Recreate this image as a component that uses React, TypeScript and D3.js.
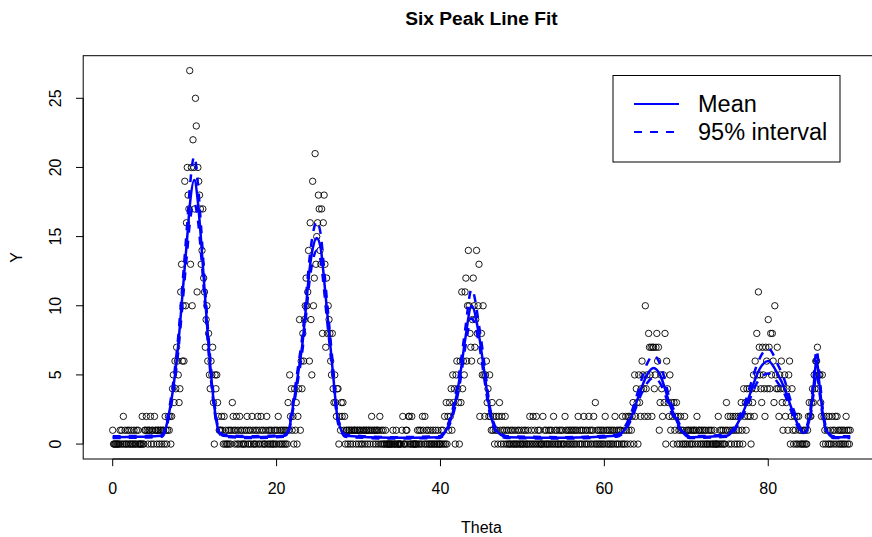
import React, { useEffect, useRef } from 'react';
import * as d3 from 'd3';

const W = 872;
const H = 537;

// observed Y counts on the theta grid (step 0.1), one array per ten degrees
const thetaStep = 0.1;
const y00 = [
  1, 0, 0, 0, 0, 0, 0, 0, 0, 1,
  0, 1, 0, 2, 0, 1, 0, 0, 1, 0,
  1, 0, 0, 1, 0, 0, 1, 0, 0, 1,
  0, 1, 0, 0, 0, 0, 2, 0, 0, 1,
  1, 2, 1, 0, 1, 1, 2, 0, 1, 1,
  0, 2, 1, 1, 0, 1, 1, 0, 1, 1,
  0, 1, 1, 0, 2, 1, 0, 1, 2, 1,
  2, 0, 2, 4, 5, 3, 6, 4, 7, 6,
  5, 3, 4, 11, 13, 6, 10, 6, 19, 10,
  16, 20, 18, 17, 27, 13, 20, 10, 22, 20,
];
const y10 = [
  17, 25, 23, 11, 20, 19, 18, 17, 13, 14,
  17, 12, 11, 7, 9, 10, 6, 8, 5, 4,
  6, 5, 7, 3, 0, 5, 4, 5, 3, 2,
  1, 1, 1, 2, 1, 0, 2, 0, 1, 0,
  0, 1, 0, 1, 0, 1, 3, 2, 1, 0,
  1, 2, 0, 1, 0, 2, 1, 0, 1, 0,
  0, 1, 0, 1, 2, 0, 1, 0, 1, 0,
  2, 1, 0, 0, 1, 0, 1, 2, 0, 1,
  0, 2, 1, 0, 1, 0, 0, 1, 2, 0,
  1, 0, 1, 0, 1, 0, 0, 1, 0, 1,
];
const y20 = [
  0, 1, 2, 0, 1, 0, 1, 0, 1, 0,
  1, 0, 1, 0, 3, 1, 5, 2, 4, 1,
  2, 0, 4, 1, 3, 0, 2, 4, 9, 1,
  6, 4, 8, 6, 9, 10, 12, 10, 11, 14,
  6, 16, 9, 5, 19, 10, 12, 21, 13, 15,
  16, 18, 17, 14, 13, 17, 8, 16, 18, 13,
  7, 12, 8, 10, 9, 8, 6, 5, 8, 4,
  3, 5, 3, 2, 4, 4, 0, 2, 1, 3,
  2, 3, 1, 2, 0, 1, 1, 0, 1, 1,
  0, 1, 1, 0, 1, 1, 1, 0, 1, 1,
];
const y30 = [
  0, 1, 1, 0, 1, 0, 1, 1, 0, 1,
  1, 0, 1, 1, 0, 1, 2, 1, 0, 1,
  1, 0, 1, 1, 0, 1, 2, 0, 1, 0,
  1, 0, 0, 1, 0, 0, 0, 0, 0, 0,
  0, 0, 1, 0, 0, 0, 1, 0, 0, 0,
  0, 0, 0, 1, 2, 0, 0, 0, 1, 1,
  0, 2, 2, 0, 0, 2, 0, 0, 0, 0,
  0, 0, 1, 0, 1, 0, 1, 0, 2, 1,
  0, 2, 0, 1, 0, 1, 0, 0, 1, 0,
  0, 1, 0, 0, 1, 0, 0, 1, 0, 0,
];
const y40 = [
  0, 1, 0, 1, 0, 2, 0, 3, 0, 2,
  1, 3, 2, 4, 1, 5, 3, 4, 0, 5,
  6, 4, 3, 0, 6, 3, 11, 4, 6, 5,
  11, 12, 6, 10, 14, 10, 8, 7, 6, 9,
  12, 10, 7, 9, 14, 8, 10, 13, 2, 6,
  8, 5, 10, 5, 2, 5, 6, 3, 4, 2,
  5, 2, 1, 3, 1, 2, 0, 1, 2, 1,
  0, 2, 3, 1, 0, 2, 1, 0, 1, 2,
  0, 1, 0, 1, 0, 0, 1, 0, 1, 0,
  0, 1, 0, 0, 1, 0, 1, 0, 0, 1,
];
const y50 = [
  0, 0, 1, 0, 1, 0, 0, 1, 0, 2,
  0, 1, 0, 2, 0, 1, 0, 2, 0, 1,
  0, 1, 0, 0, 0, 2, 0, 1, 0, 1,
  0, 0, 1, 0, 1, 0, 1, 0, 2, 0,
  1, 0, 1, 0, 0, 1, 0, 1, 0, 1,
  0, 0, 2, 1, 0, 1, 0, 1, 0, 1,
  0, 1, 0, 1, 0, 1, 0, 1, 2, 0,
  1, 0, 1, 0, 1, 2, 0, 1, 0, 1,
  0, 2, 1, 0, 1, 0, 1, 2, 0, 3,
  0, 1, 0, 1, 0, 1, 0, 1, 0, 1,
];
const y60 = [
  0, 2, 1, 0, 1, 0, 1, 0, 1, 0,
  1, 0, 1, 2, 0, 1, 0, 1, 0, 1,
  1, 0, 2, 0, 1, 0, 2, 1, 0, 2,
  1, 2, 0, 1, 2, 3, 0, 5, 2, 4,
  3, 0, 5, 3, 2, 4, 6, 5, 4, 2,
  10, 4, 5, 2, 8, 7, 5, 7, 2, 7,
  7, 4, 5, 7, 8, 6, 7, 1, 3, 5,
  4, 2, 5, 3, 8, 0, 6, 4, 3, 2,
  5, 1, 3, 2, 0, 3, 1, 2, 3, 0,
  2, 1, 0, 2, 1, 0, 1, 0, 2, 0,
];
const y70 = [
  1, 0, 1, 1, 0, 1, 0, 1, 0, 1,
  1, 0, 1, 2, 0, 1, 1, 0, 1, 0,
  1, 0, 1, 0, 1, 0, 0, 1, 0, 1,
  0, 1, 0, 0, 1, 0, 0, 0, 0, 2,
  0, 1, 0, 1, 0, 1, 0, 0, 1, 3,
  1, 2, 0, 1, 2, 0, 1, 2, 1, 0,
  2, 1, 0, 2, 1, 0, 2, 3, 1, 0,
  4, 2, 3, 1, 4, 2, 3, 4, 2, 0,
  4, 3, 5, 2, 6, 4, 8, 5, 11, 7,
  5, 4, 3, 7, 5, 4, 2, 7, 6, 4,
];
const y80 = [
  9, 7, 4, 8, 5, 8, 6, 3, 10, 5,
  4, 7, 4, 2, 5, 4, 6, 3, 1, 4,
  5, 2, 3, 4, 1, 5, 6, 0, 2, 4,
  1, 0, 2, 1, 0, 2, 0, 2, 1, 0,
  1, 0, 0, 1, 0, 1, 0, 0, 1, 2,
  3, 2, 2, 3, 4, 3, 5, 4, 6, 6,
  7, 4, 5, 5, 3, 2, 5, 0, 2, 1,
  0, 2, 1, 0, 2, 0, 1, 0, 2, 1,
  0, 1, 2, 0, 2, 1, 0, 1, 0, 1,
  0, 1, 0, 1, 0, 2, 1, 0, 1, 0,
];
const y90 = [1];

// fitted curve read at knots
const fitTheta = [
  0, 3, 6, 6.4, 6.8, 7.6, 8.05, 8.4, 8.75, 9.1, 9.45, 9.95, 10.4, 10.75, 11.05, 11.35, 11.65, 12, 12.45, 12.9, 13.5,
  17, 21, 21.5, 21.8, 22.6, 23.2, 23.6, 24, 24.4, 24.9, 25.4, 25.7, 26.1, 26.5, 26.9, 27.4, 27.9, 28.4,
  34, 39.9, 40.7, 41.6, 42.4, 43, 43.8, 44.8, 45.4, 46, 46.8, 48.1,
  55, 61.5, 63.3, 63.9, 64.5, 65.2, 66, 66.8, 67.4, 67.9, 68.6, 69.4, 70.4,
  74.9, 76.7, 77.4, 78, 78.6, 80, 81.2, 82, 82.6, 83.2, 84.3, 85.1, 85.5, 85.9, 86.3, 86.7, 87.1, 87.9, 90,
];
const fitMean = [
  0.5, 0.52, 0.6, 1, 2, 5, 7.5, 10, 12.5, 15, 17.5, 19.1, 17.5, 15, 12.5, 10, 7.5, 5, 2.5, 1, 0.6,
  0.5, 0.6, 1, 2, 5, 7.5, 10, 12.5, 14.1, 14.9, 14.1, 12.5, 10, 7.5, 5, 2, 1, 0.6,
  0.45, 0.5, 1, 2.5, 5, 7.5, 10, 7.5, 5, 2.5, 1, 0.5,
  0.45, 0.6, 2, 3, 4, 5, 5.5, 5, 4, 3, 2, 1, 0.5,
  0.6, 2, 3, 4, 5, 6, 5, 4, 3, 2, 0.8, 2, 4, 6, 4, 2, 1, 0.5, 0.5,
];
const fitLower = [
  0.44, 0.46, 0.53, 0.9, 1.8, 4.6, 7, 9.3, 11.7, 14, 16.2, 17.4, 16.2, 14, 11.7, 9.3, 7, 4.6, 2.25, 0.9, 0.53,
  0.44, 0.53, 0.9, 1.8, 4.6, 7, 9.3, 11.7, 13.2, 14, 13.2, 11.7, 9.3, 7, 4.6, 1.8, 0.9, 0.53,
  0.4, 0.44, 0.9, 2.25, 4.5, 6.9, 9.1, 6.9, 4.5, 2.25, 0.9, 0.44,
  0.4, 0.53, 1.8, 2.7, 3.6, 4.4, 4.8, 4.4, 3.6, 2.7, 1.8, 0.9, 0.44,
  0.53, 1.8, 2.7, 3.6, 4.4, 5.1, 4.4, 3.6, 2.7, 1.8, 0.7, 1.8, 3.5, 5.1, 3.5, 1.8, 0.9, 0.44, 0.44,
];
const fitUpper = [
  0.57, 0.58, 0.68, 1.15, 2.25, 5.5, 8.1, 10.7, 13.3, 16, 18.8, 20.8, 18.8, 16, 13.3, 10.7, 8.1, 5.5, 2.8, 1.15, 0.68,
  0.57, 0.68, 1.15, 2.25, 5.5, 8.1, 10.7, 13.3, 15.1, 16.1, 15.1, 13.3, 10.7, 8.1, 5.5, 2.25, 1.15, 0.68,
  0.5, 0.57, 1.15, 2.8, 5.6, 8.2, 11.2, 8.2, 5.6, 2.8, 1.15, 0.57,
  0.5, 0.68, 2.3, 3.4, 4.6, 5.8, 6.4, 5.8, 4.6, 3.4, 2.3, 1.15, 0.57,
  0.68, 2.3, 3.4, 4.6, 5.7, 6.9, 5.7, 4.6, 3.4, 2.3, 0.95, 2.3, 4.6, 6.8, 4.6, 2.3, 1.15, 0.57, 0.57,
];

const xTicks = [0, 20, 40, 60, 80];
const yTicks = [0, 5, 10, 15, 20, 25];
const legendLabels = ['Mean', '95% interval'];

const FONT = '"Liberation Sans", Arial, sans-serif';

export default function App() {
  const svgRef = useRef<SVGSVGElement | null>(null);

  useEffect(() => {
    const svg = d3.select(svgRef.current);
    svg.selectAll('*').remove();

    const box = { left: 83.2, right: 879.7, top: 55.7, bottom: 459 };

    const x = d3.scaleLinear().domain([-3.6, 93.6]).range([box.left, box.right]);
    const y = d3.scaleLinear().domain([-1.08, 28.08]).range([box.bottom, box.top]);

    const counts = [...y00, ...y10, ...y20, ...y30, ...y40, ...y50, ...y60, ...y70, ...y80, ...y90];
    const points = counts.map((v, i) => ({ theta: +(i * thetaStep).toFixed(1), v }));

    // points
    svg.append('g')
      .selectAll('circle')
      .data(points)
      .enter()
      .append('circle')
      .attr('cx', (d) => x(d.theta))
      .attr('cy', (d) => y(d.v))
      .attr('r', 3.2)
      .attr('fill', 'none')
      .attr('stroke', '#000')
      .attr('stroke-width', 0.9);

    // fitted lines
    const fit = fitTheta.map((t, i) => ({
      t, mean: fitMean[i], lo: fitLower[i], hi: fitUpper[i],
    }));
    const line = (key: 'mean' | 'lo' | 'hi') => d3.line<any>()
      .x((d) => x(d.t))
      .y((d) => y(d[key]))
      .curve(d3.curveMonotoneX)(fit);

    svg.append('path').attr('d', line('mean'))
      .attr('fill', 'none').attr('stroke', '#0000ff').attr('stroke-width', 2.5);
    ['lo', 'hi'].forEach((k) => {
      svg.append('path').attr('d', line(k as 'lo' | 'hi'))
        .attr('fill', 'none').attr('stroke', '#0000ff').attr('stroke-width', 2.5)
        .attr('stroke-dasharray', '8,8');
    });

    // plot box
    svg.append('rect')
      .attr('x', box.left).attr('y', box.top)
      .attr('width', box.right - box.left).attr('height', box.bottom - box.top)
      .attr('fill', 'none').attr('stroke', '#000').attr('stroke-width', 1);

    // x axis
    const gx = svg.append('g');
    gx.append('line')
      .attr('x1', x(xTicks[0])).attr('x2', x(xTicks[xTicks.length - 1]))
      .attr('y1', box.bottom).attr('y2', box.bottom).attr('stroke', '#000');
    xTicks.forEach((t) => {
      gx.append('line')
        .attr('x1', x(t)).attr('x2', x(t))
        .attr('y1', box.bottom).attr('y2', box.bottom + 7.2).attr('stroke', '#000');
      gx.append('text')
        .attr('x', x(t)).attr('y', 494)
        .attr('text-anchor', 'middle')
        .attr('font-family', FONT).attr('font-size', 16).attr('fill', '#000')
        .text(t);
    });

    // y axis
    const gy = svg.append('g');
    gy.append('line')
      .attr('x1', box.left).attr('x2', box.left)
      .attr('y1', y(yTicks[0])).attr('y2', y(yTicks[yTicks.length - 1])).attr('stroke', '#000');
    yTicks.forEach((t) => {
      gy.append('line')
        .attr('x1', box.left - 7.2).attr('x2', box.left)
        .attr('y1', y(t)).attr('y2', y(t)).attr('stroke', '#000');
      gy.append('text')
        .attr('transform', `translate(61,${y(t)}) rotate(-90)`)
        .attr('text-anchor', 'middle')
        .attr('font-family', FONT).attr('font-size', 16).attr('fill', '#000')
        .text(t);
    });

    // titles
    const cx = (box.left + box.right) / 2;
    svg.append('text')
      .attr('x', cx).attr('y', 25)
      .attr('text-anchor', 'middle')
      .attr('font-family', FONT).attr('font-size', 19.2).attr('font-weight', 'bold')
      .text('Six Peak Line Fit');
    svg.append('text')
      .attr('x', cx).attr('y', 533)
      .attr('text-anchor', 'middle')
      .attr('font-family', FONT).attr('font-size', 16)
      .text('Theta');
    svg.append('text')
      .attr('transform', `translate(21.5,${(box.top + box.bottom) / 2}) rotate(-90)`)
      .attr('text-anchor', 'middle')
      .attr('font-family', FONT).attr('font-size', 16)
      .text('Y');

    // legend
    const lg = svg.append('g');
    lg.append('rect')
      .attr('x', 613).attr('y', 75.5).attr('width', 227).attr('height', 86.5)
      .attr('fill', '#fff').attr('stroke', '#000').attr('stroke-width', 1);
    legendLabels.forEach((label, i) => {
      const ly = 104 + i * 28;
      lg.append('line')
        .attr('x1', 634).attr('x2', 679).attr('y1', ly).attr('y2', ly)
        .attr('stroke', '#0000ff').attr('stroke-width', 2)
        .attr('stroke-dasharray', i === 0 ? null : '8,8');
      lg.append('text')
        .attr('x', 698).attr('y', ly + 8)
        .attr('font-family', FONT).attr('font-size', 23.5).attr('fill', '#000')
        .text(label);
    });
  }, []);

  return (
    <div style={{ position: 'absolute', left: 0, top: 0 }}>
      <svg ref={svgRef} width={W} height={H} style={{ display: 'block', background: '#fff' }} />
    </div>
  );
}
